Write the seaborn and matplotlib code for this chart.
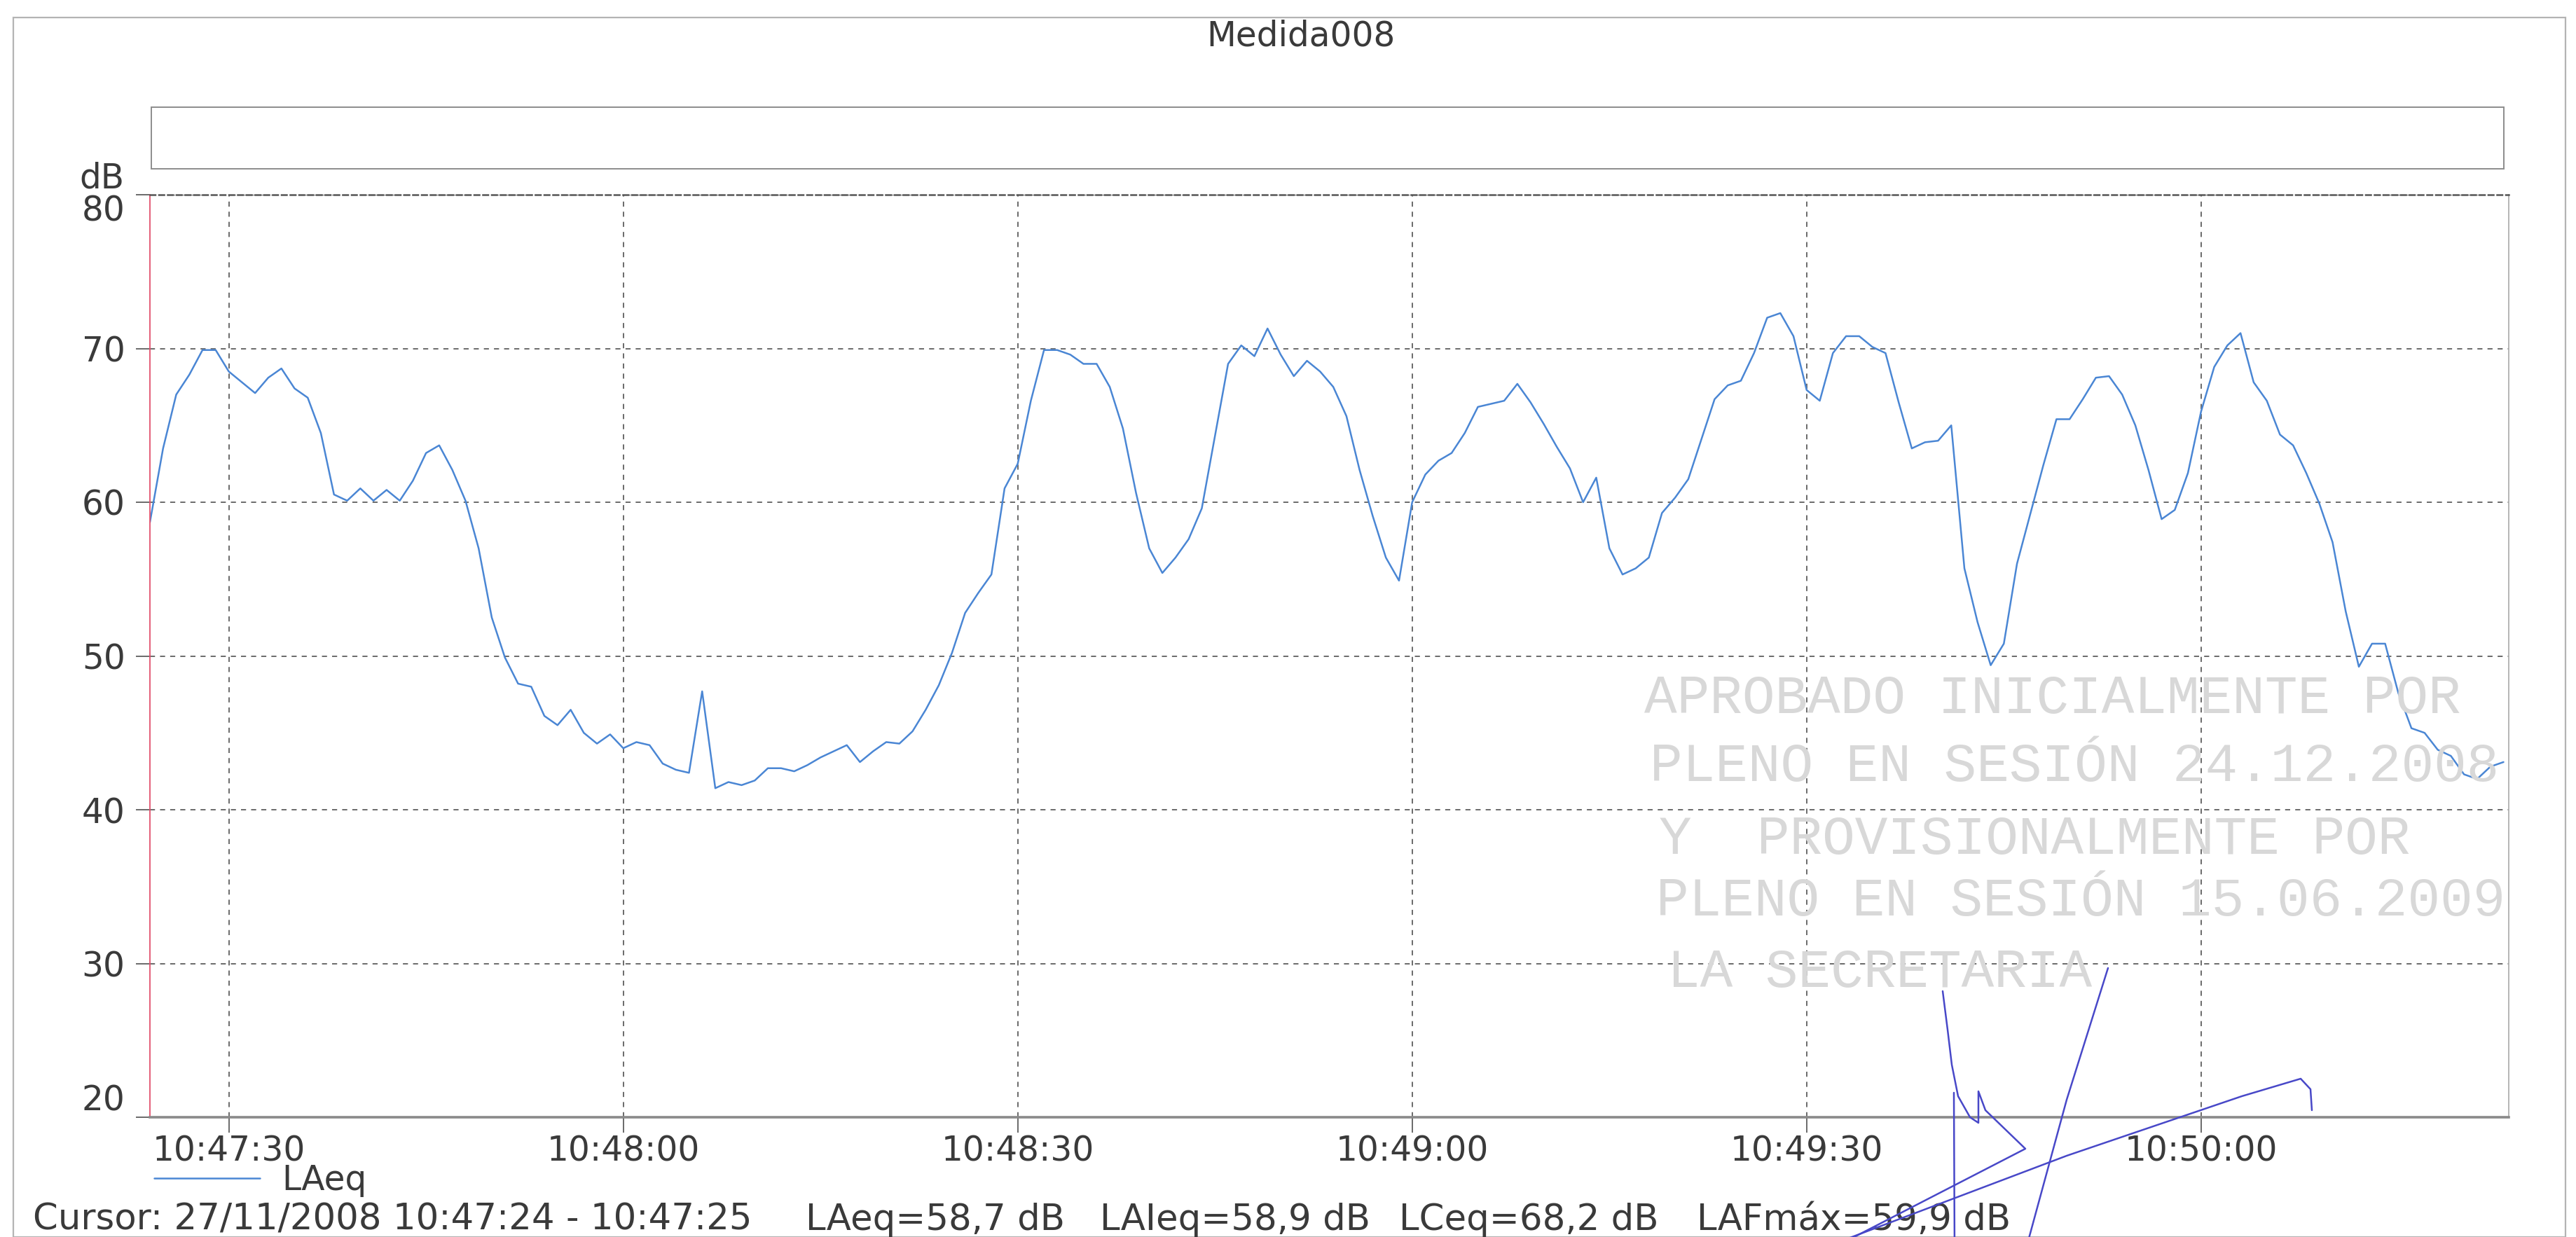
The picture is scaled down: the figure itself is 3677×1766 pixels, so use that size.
import numpy as np
import pandas as pd
import matplotlib
matplotlib.use("Agg")
import matplotlib.pyplot as plt
import matplotlib.dates as mdates
from matplotlib.lines import Line2D
from matplotlib.patches import Rectangle
import seaborn as sns

# Sound level record, one LAeq value per second
start_time = "2008-11-27 10:47:24"
laeq = [
    58.7, 63.5, 67.0, 68.3, 69.9, 69.9, 68.5, 67.8, 67.1, 68.1,
    68.7, 67.4, 66.8, 64.5, 60.5, 60.1, 60.9, 60.1, 60.8, 60.1,
    61.4, 63.2, 63.7, 62.1, 60.1, 57.0, 52.5, 49.9, 48.2, 48.0,
    46.1, 45.5, 46.5, 45.0, 44.3, 44.9, 44.0, 44.4, 44.2, 43.0,
    42.6, 42.4, 47.7, 41.4, 41.8, 41.6, 41.9, 42.7, 42.7, 42.5,
    42.9, 43.4, 43.8, 44.2, 43.1, 43.8, 44.4, 44.3, 45.1, 46.5,
    48.1, 50.2, 52.8, 54.1, 55.3, 60.9, 62.5, 66.6, 69.9, 69.9,
    69.6, 69.0, 69.0, 67.5, 64.8, 60.6, 57.0, 55.4, 56.4, 57.6,
    59.6, 64.3, 69.0, 70.2, 69.5, 71.3, 69.6, 68.2, 69.2, 68.5,
    67.5, 65.6, 62.1, 59.1, 56.4, 54.9, 60.0, 61.8, 62.7, 63.2,
    64.5, 66.2, 66.4, 66.6, 67.7, 66.5, 65.1, 63.6, 62.2, 60.0,
    61.6, 57.0, 55.3, 55.7, 56.4, 59.3, 60.3, 61.5, 64.1, 66.7,
    67.6, 67.9, 69.7, 72.0, 72.3, 70.8, 67.3, 66.6, 69.7, 70.8,
    70.8, 70.1, 69.7, 66.5, 63.5, 63.9, 64.0, 65.0, 55.7, 52.2,
    49.4, 50.8, 56.0, 59.2, 62.4, 65.4, 65.4, 66.7, 68.1, 68.2,
    67.0, 65.0, 62.1, 58.9, 59.5, 61.9, 65.9, 68.8, 70.2, 71.0,
    67.8, 66.6, 64.4, 63.7, 61.9, 59.9, 57.4, 52.9, 49.3, 50.8,
    50.8, 47.6, 45.3, 45.0, 43.9, 43.5, 42.3, 42.0, 42.8, 43.1,
]
y_ticks = [20, 30, 40, 50, 60, 70, 80]
chart_title = "Medida008"
unit_label = "dB"
series_name = "LAeq"
cursor_fields = [
    "Cursor: 27/11/2008 10:47:24 - 10:47:25",
    "LAeq=58,7 dB",
    "LAIeq=58,9 dB",
    "LCeq=68,2 dB",
    "LAFmáx=59,9 dB",
]
stamp_lines = [
    "APROBADO INICIALMENTE POR",
    "PLENO EN SESIÓN 24.12.2008",
    "Y  PROVISIONALMENTE POR",
    "PLENO EN SESIÓN 15.06.2009",
    "LA SECRETARIA",
]

sns.set_theme(style="white")
plt.rcParams["font.family"] = ["DejaVu Sans"]

W, H = 3677, 1766
fig = plt.figure(figsize=(W / 100, H / 100), dpi=100)
fig.patch.set_facecolor("white")


def fx(px):
    return px / W


def fy(py):
    return 1 - py / H


FS = 35
text_color = "#3a3a3a"
grid_color = "#5e5e5e"
line_color = "#4a86d4"

# page frame and the empty header strip
fig.add_artist(Rectangle((fx(19), fy(1766)), fx(3662) - fx(19), fy(25) - fy(1766),
                         transform=fig.transFigure, fill=False,
                         edgecolor="#b4b4b4", linewidth=1.6))
fig.add_artist(Rectangle((fx(216), fy(241)), fx(3574) - fx(216), fy(153) - fy(241),
                         transform=fig.transFigure, fill=False,
                         edgecolor="#8c8c8c", linewidth=1.4))

fig.text(fx(1857), fy(52), chart_title, ha="center", va="center",
         fontsize=FS, color=text_color)

ax = fig.add_axes([fx(214), fy(1595), fx(3581) - fx(214), fy(278) - fy(1595)])

times = pd.date_range(start_time, periods=len(laeq), freq="s")
df = pd.DataFrame({"Hora": times, series_name: laeq})
sns.lineplot(data=df, x="Hora", y=series_name, ax=ax, color=line_color,
             linewidth=1.8, label=series_name)

ax.set_xlim(times[0], times[0] + pd.Timedelta(seconds=179.4))
ax.set_ylim(y_ticks[0], y_ticks[-1])
ax.set_yticks(y_ticks)
ax.xaxis.set_major_locator(mdates.SecondLocator(bysecond=[0, 30]))
ax.xaxis.set_major_formatter(mdates.DateFormatter("%H:%M:%S"))
ax.set_xlabel("")
ax.set_ylabel("")

ax.grid(True, color=grid_color, linestyle=(0, (4, 4)), linewidth=1.3)
ax.tick_params(axis="y", direction="out", length=14.4, width=1.3, color=grid_color,
               pad=11, labelsize=FS, labelcolor=text_color, left=True)
ax.tick_params(axis="x", direction="out", length=16, width=1.3, color=grid_color,
               pad=2, labelsize=FS, labelcolor=text_color, bottom=True)

for tick, val in zip(ax.yaxis.get_major_ticks(), y_ticks):
    if val == y_ticks[-1]:
        tick.label1.set_verticalalignment("top")
    elif val == y_ticks[0]:
        tick.label1.set_verticalalignment("bottom")

ax.spines["top"].set_color("#555555")
ax.spines["top"].set_linewidth(1.8)
ax.spines["top"].set_linestyle((0, (3, 2)))
ax.spines["left"].set_color("#e2506c")
ax.spines["left"].set_linewidth(1.3)
ax.spines["right"].set_color("#b0b0b0")
ax.spines["right"].set_linewidth(1.3)
ax.spines["bottom"].set_color("#8a8a8a")
ax.spines["bottom"].set_linewidth(2.6)

ax.text(-0.0108, 1.007, unit_label, transform=ax.transAxes, ha="right",
        va="baseline", fontsize=FS, color=text_color)

ax.legend(loc="center left", bbox_to_anchor=(fx(220), fy(1685)),
          bbox_transform=fig.transFigure, frameon=False, fontsize=FS,
          borderpad=0, borderaxespad=0, handlelength=3.1, handletextpad=0.64,
          labelcolor=text_color)

# cursor read-out line, one field after another
cursor_x = [47, 1150, 1570, 1997, 2422]
for cx, field in zip(cursor_x, cursor_fields):
    fig.text(fx(cx), fy(1742), field, ha="left", va="center",
             fontsize=37, color=text_color)

# approval stamp printed over the lower right of the plot
stamp_rows = [(2347, 997), (2355, 1095), (2368, 1198), (2364, 1287), (2380, 1388)]
for (sx, sy), line in zip(stamp_rows, stamp_lines):
    fig.text(fx(sx), fy(sy), line, ha="left", va="center", fontsize=56,
             family=["Liberation Mono", "DejaVu Sans Mono"], color="#d8d8d8",
             zorder=5)

# handwritten signature strokes (pixel positions on the page)
signature_strokes = [
    [(2773, 1415), (2780, 1470), (2786, 1520), (2795, 1565), (2812, 1595),
     (2824, 1603), (2824, 1558), (2834, 1585), (2891, 1640), (2600, 1790)],
    [(3009, 1382), (2950, 1570), (2890, 1790)],
    [(2580, 1790), (2950, 1650), (3200, 1565), (3284, 1540), (3298, 1555), (3300, 1585)],
    [(2789, 1560), (2790, 1790)],
]
for stroke in signature_strokes:
    xs = [fx(p[0]) for p in stroke]
    ys = [fy(p[1]) for p in stroke]
    fig.add_artist(Line2D(xs, ys, transform=fig.transFigure, color="#4848c8",
                          linewidth=1.8, solid_capstyle="round", zorder=6))

fig.savefig("out.png", dpi=100, facecolor="white")
